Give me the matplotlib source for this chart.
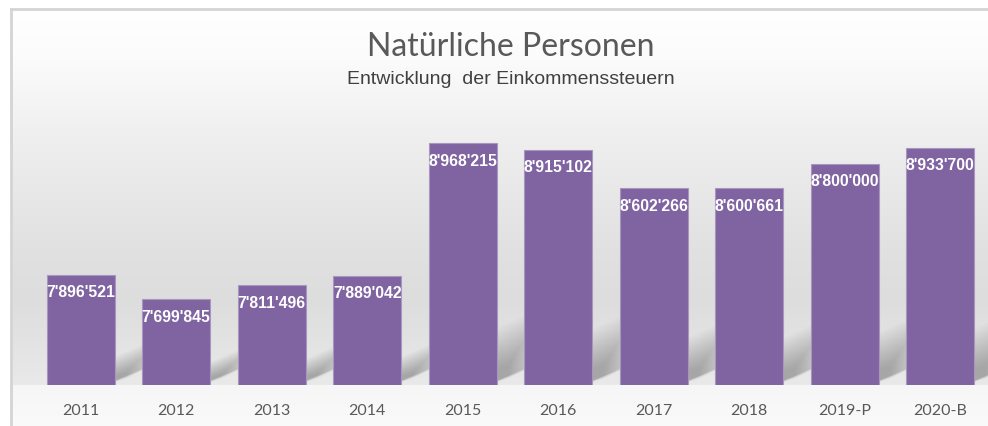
import numpy as np
import matplotlib.pyplot as plt
from matplotlib.patches import Polygon

# Daten
jahre = ["2011", "2012", "2013", "2014", "2015", "2016", "2017", "2018", "2019-P", "2020-B"]
steuern = [7896521, 7699845, 7811496, 7889042, 8968215, 8915102, 8602266, 8600661, 8800000, 8933700]
y_min, y_max = 7000000, 9500000

W, H = 988, 427
fig = plt.figure(figsize=(W / 100, H / 100), dpi=100)
fig.patch.set_facecolor("white")

# Hintergrund mit Verlauf (Pixelkoordinaten)
bg = fig.add_axes([0, 0, 1, 1])
bg.set_xlim(0, W)
bg.set_ylim(H, 0)
bg.axis("off")
yy = np.arange(10, H)
grau = np.interp(yy, [10, 60, 130, 250, 300, 385, 386, 427],
                 [255, 251, 240, 225, 221, 233, 246, 250]) / 255.0
verlauf = np.repeat(grau[:, None], 2, axis=1)
bg.imshow(np.dstack([verlauf] * 3), extent=[11, W, H, 10], aspect="auto",
          interpolation="bilinear", zorder=0)
bg.plot([11, W], [10, 10], color="#d4d4d4", lw=2, zorder=1)
bg.plot([11, 11], [10, H], color="#d4d4d4", lw=2, zorder=1)

# Titel
fig.text(0.517, 1 - 47 / H, "Natürliche Personen", ha="center", va="center",
         fontsize=23, color="#595959", family="Lato")
fig.text(0.517, 1 - 79 / H, "Entwicklung  der Einkommenssteuern", ha="center", va="center",
         fontsize=14, color="#404040", family="Liberation Sans")

# Diagramm
ax = fig.add_axes([33 / W, (H - 386) / H, (W - 33) / W, 307 / H])
ax.set_facecolor("none")
ax.set_xlim(-0.5, len(jahre) - 0.5)
ax.set_ylim(y_min, y_max)
x = np.arange(len(jahre))
breite = 0.71

# Schatten: weiches schräges Band rechts hinter jedem Balken
px_x = 1 / 95.5
px_y = (y_max - y_min) / 307
steigung = 0.65 * px_y / px_x
for xi, v in zip(x, steuern):
    h = v - y_min
    xr = xi + breite / 2
    for k in np.linspace(1.0, 0.25, 22):
        dick = 0.22 * h * k
        ext = 0.5 * k
        pts = [(xr - 0.1, y_min), (xr + ext, y_min + steigung * ext * 0.8),
               (xr + ext, y_min + steigung * ext * 0.8 + dick),
               (xr - 0.1, y_min + dick)]
        ax.add_patch(Polygon(pts, closed=True, facecolor="black", alpha=0.013,
                             edgecolor="none", zorder=1))

ax.bar(x, [v - y_min for v in steuern], bottom=y_min, width=breite,
       color="#8064a2", edgecolor="#a896c0", linewidth=0.8, zorder=2)

for xi, v in zip(x, steuern):
    text = f"{v:,}".replace(",", "'")
    ax.annotate(text, (xi, v), xytext=(0, -17), textcoords="offset pixels",
                ha="center", va="center", color="white", fontsize=11.3,
                fontweight="bold", family="Liberation Sans", zorder=3)

ax.set_xticks(x)
ax.set_xticklabels(jahre, fontsize=11.5, color="#595959", family="Lato")
ax.tick_params(axis="x", length=0, pad=13)
ax.set_yticks([])
for s in ax.spines.values():
    s.set_visible(False)

fig.savefig("out.png", dpi=100)
